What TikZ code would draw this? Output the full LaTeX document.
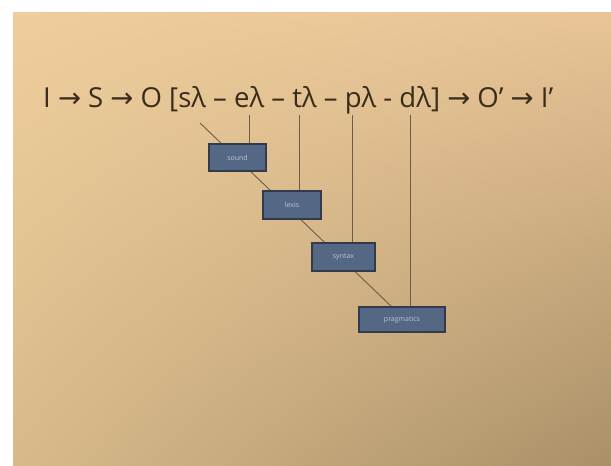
\documentclass[tikz,border=0pt]{standalone}
\usepackage{fontspec}
\usetikzlibrary{shadings}
\setmainfont{Open Sans}
\newfontfamily\arr{DejaVu Sans}
\definecolor{slideTL}{RGB}{238,206,156}
\definecolor{slideTR}{RGB}{232,196,150}
\definecolor{slideBL}{RGB}{216,186,138}
\definecolor{slideBR}{RGB}{170,144,104}
\definecolor{boxfill}{RGB}{84,104,134}
\definecolor{boxline}{RGB}{50,58,76}
\definecolor{linkcol}{RGB}{110,92,72}
\definecolor{titlecol}{RGB}{58,44,28}
\definecolor{boxtext}{RGB}{190,196,210}
\tikzset{
  levelbox/.style={draw=boxline, line width=1.2pt, fill=boxfill, inner sep=0pt,
    text=boxtext, font=\fontsize{7}{8}\selectfont},
  link/.style={draw=linkcol, line width=0.9pt},
}
\begin{document}
\begin{tikzpicture}[x=1pt,y=-1pt]
\useasboundingbox (0,0) rectangle (611,466);
\fill[white] (0,0) rectangle (611,466);
\shade[upper left=slideTL, upper right=slideTR, lower left=slideBL, lower right=slideBR]
  (13,12) rectangle (611,466);
% title
\node[anchor=base west, inner sep=0pt, text=titlecol] (title) at (43,107)
  {\resizebox{510pt}{!}{I {\arr→} S {\arr→} O [sλ – eλ – tλ – pλ - dλ] {\arr→} O’ {\arr→} I’}};
% anchor points under the letters
\coordinate (sl) at (200,123);
\coordinate (el) at (249,115);
\coordinate (tl) at (299,115);
\coordinate (pl) at (352,115);
\coordinate (dl) at (410,115);
\coordinate (diagend) at (392,307);
% diagonal behind boxes
\draw[link] (sl) -- (diagend);
% boxes
\node[levelbox, minimum width=57pt, minimum height=27pt] (b1) at (237.5,157.5) {sound};
\node[levelbox, minimum width=58pt, minimum height=28pt] (b2) at (292,205) {lexis};
\node[levelbox, minimum width=63pt, minimum height=28pt] (b3) at (343.5,257) {syntax};
\node[levelbox, minimum width=86pt, minimum height=25pt] (b4) at (402,319.5) {pragmatics};
% verticals
\draw[link] (el) -- (el |- b1.north);
\draw[link] (tl) -- (tl |- b2.north);
\draw[link] (pl) -- (pl |- b3.north);
\draw[link] (dl) -- (dl |- b4.north);
\end{tikzpicture}
\end{document}
